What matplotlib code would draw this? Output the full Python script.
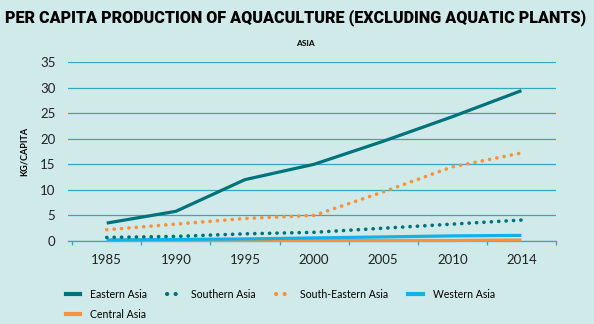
import matplotlib
matplotlib.use('Agg')
import matplotlib.pyplot as plt
from matplotlib.lines import Line2D

years = ["1985", "1990", "1995", "2000", "2005", "2010", "2014"]
eastern_asia = [3.5, 5.8, 12.0, 15.0, 19.5, 24.3, 29.4]
southern_asia = [0.7, 0.9, 1.4, 1.7, 2.5, 3.3, 4.1]
south_eastern_asia = [2.2, 3.3, 4.4, 5.0, 9.6, 14.5, 17.2]
western_asia = [0.2, 0.3, 0.4, 0.6, 0.8, 1.0, 1.1]
central_asia = [0.1, 0.1, 0.1, 0.1, 0.1, 0.1, 0.2]
yticks = [0, 5, 10, 15, 20, 25, 30, 35]

BG = "#d0eaea"
TEAL = "#00727b"
ORANGE = "#f7923a"
BLUE = "#12b1ea"
GRID = "#3aa6b8"
FONT = ["Lato", "DejaVu Sans"]

fig = plt.figure(figsize=(5.94, 3.24), dpi=100, facecolor=BG)
ax = fig.add_axes([68 / 594, 1 - 241 / 324, (556 - 68) / 594, 179 / 324])
ax.set_facecolor(BG)

x = list(range(len(years)))
dots = (0, (0.05, 2.0))

ax.plot(x, central_asia, color=ORANGE, lw=2.3, solid_capstyle="butt", clip_on=False, zorder=4)
ax.plot(x, western_asia, color=BLUE, lw=2.3, solid_capstyle="butt", clip_on=False, zorder=4)
ax.plot(x, southern_asia, color=TEAL, lw=2.6, ls=dots, dash_capstyle="round", zorder=4)
ax.plot(x, south_eastern_asia, color=ORANGE, lw=2.6, ls=dots, dash_capstyle="round", zorder=4)
ax.plot(x, eastern_asia, color=TEAL, lw=2.3, solid_capstyle="butt", zorder=4)

ax.set_xlim(-0.56, 6.5)
ax.set_ylim(0, 35)
ax.set_yticks(yticks)
ax.set_yticklabels([str(v) for v in yticks], fontsize=9.5, family=FONT, color="#222222")
ax.yaxis.grid(True, color=GRID, lw=0.9)
ax.set_axisbelow(True)
ax.tick_params(axis="y", length=0, pad=9)

ax.set_xticks(x)
ax.set_xticklabels(years, fontsize=9.5, family=FONT, color="#222222")
ax.set_xticks([i - 0.5 for i in range(len(years) + 1)], minor=True)
ax.tick_params(axis="x", which="major", length=0, pad=9)
ax.tick_params(axis="x", which="minor", length=3, color=GRID, width=0.9)

for s in ["top", "right", "left"]:
    ax.spines[s].set_visible(False)
ax.spines["bottom"].set_color(GRID)
ax.spines["bottom"].set_linewidth(0.9)

ax.set_ylabel("KG/CAPITA", fontsize=6.5, fontweight="bold", family=FONT, labelpad=8)

fig.text(0.008, 0.945, "PER CAPITA PRODUCTION OF AQUACULTURE (EXCLUDING AQUATIC PLANTS)",
         fontsize=11.6, fontweight="heavy", family=["Roboto", "DejaVu Sans"],
         ha="left", va="center", color="black")
fig.text(305 / 594, 1 - 44 / 324, "ASIA", fontsize=6, fontweight="bold", family=FONT,
         ha="center", va="center")

handles = [
    Line2D([], [], color=TEAL, lw=3),
    Line2D([], [], color=ORANGE, lw=3),
    Line2D([], [], color=TEAL, lw=3, ls=dots, dash_capstyle="round"),
    Line2D([], [], color=ORANGE, lw=3, ls=dots, dash_capstyle="round"),
    Line2D([], [], color=BLUE, lw=3),
]
labels = ["Eastern Asia", "Central Asia", "Southern Asia", "South-Eastern Asia", "Western Asia"]
leg = fig.legend(handles, labels, ncol=4, loc="upper left", bbox_to_anchor=(56 / 594, 1 - 279 / 324),
                 frameon=False, handlelength=1.4, handletextpad=0.9, columnspacing=1.9,
                 labelspacing=0.9, prop={"family": FONT, "size": 7.6})

fig.savefig("out.png", dpi=100, facecolor=BG)
